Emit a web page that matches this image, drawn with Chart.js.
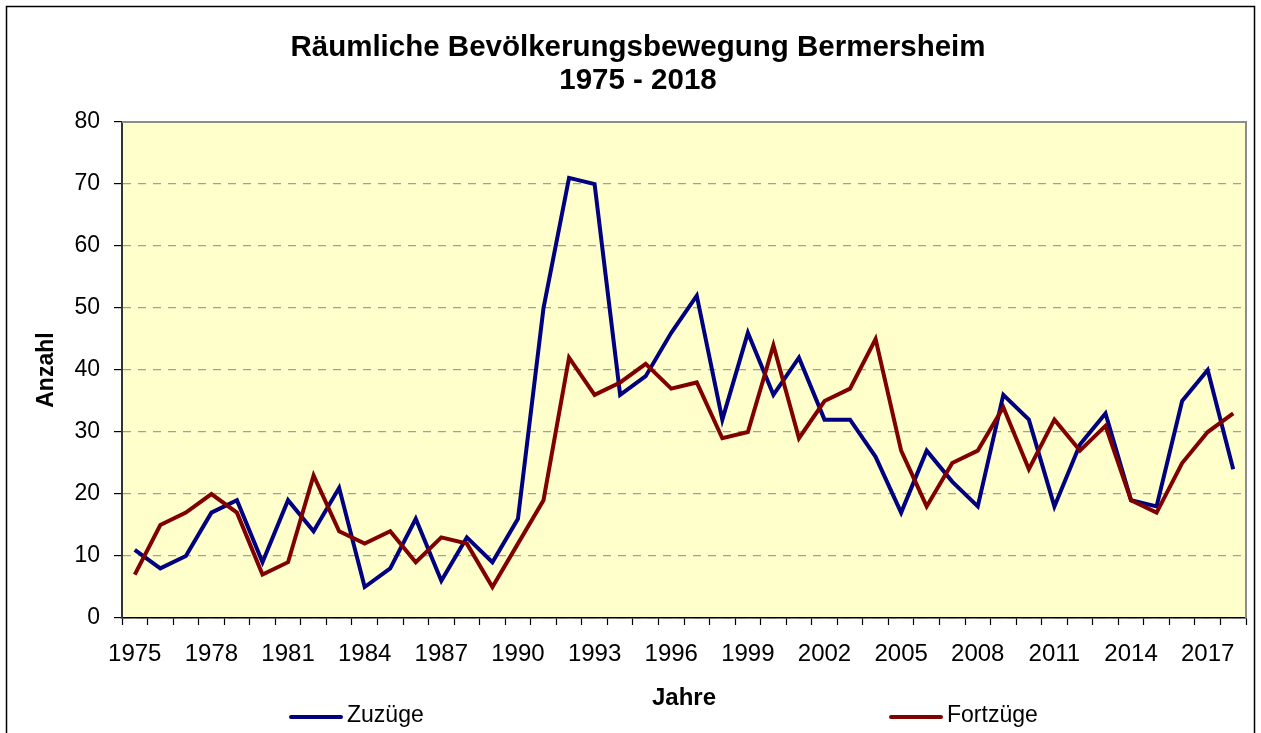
<!DOCTYPE html>
<html>
<head>
<meta charset="utf-8">
<title>Räumliche Bevölkerungsbewegung Bermersheim</title>
<script src="https://cdn.jsdelivr.net/npm/chart.js@4.4.0/dist/chart.umd.min.js"></script>
<style>
    html, body { margin: 0; padding: 0; background: #fff; }
    canvas { display: block; }
</style>
</head>
<body>
<canvas id="chart" width="1261" height="733"></canvas>
<script>
const years = [
    '1975', '1976', '1977', '1978', '1979', '1980', '1981', '1982', '1983', '1984', '1985',
    '1986', '1987', '1988', '1989', '1990', '1991', '1992', '1993', '1994', '1995', '1996',
    '1997', '1998', '1999', '2000', '2001', '2002', '2003', '2004', '2005', '2006', '2007',
    '2008', '2009', '2010', '2011', '2012', '2013', '2014', '2015', '2016', '2017', '2018',
];

const zuzuege = [
    11, 8, 10, 17, 19, 9, 19, 14, 21, 5, 8,
    16, 6, 13, 9, 16, 50, 71, 70, 36, 39, 46,
    52, 32, 46, 36, 42, 32, 32, 26, 17, 27, 22,
    18, 36, 32, 18, 28, 33, 19, 18, 35, 40, 24,
];

const fortzuege = [
    7, 15, 17, 20, 17, 7, 9, 23, 14, 12, 14,
    9, 13, 12, 5, 12, 19, 42, 36, 38, 41, 37,
    38, 29, 30, 44, 29, 35, 37, 45, 27, 18, 25,
    27, 34, 24, 32, 27, 31, 19, 17, 25, 30, 33,
];

const titleLines = ['Räumliche Bevölkerungsbewegung Bermersheim', '1975 - 2018'];
const seriesNames = ['Zuzüge', 'Fortzüge'];
const seriesColors = ['#000080', '#800000'];

const FONT = "'Liberation Sans', Arial, sans-serif";

// background, plot fill, outer frame
const framePlugin = {
    id: 'frame',
    beforeDraw(chart) {
        const { ctx, chartArea: a, width, height } = chart;
        ctx.save();
        ctx.fillStyle = '#ffffff';
        ctx.fillRect(0, 0, width, height);
        ctx.fillStyle = '#FFFFCC';
        ctx.fillRect(a.left, a.top, a.right - a.left, a.bottom - a.top);
        ctx.strokeStyle = '#000';
        ctx.lineWidth = 1.5;
        ctx.strokeRect(6.5, 6.5, width - 13, height + 20);
        ctx.restore();
    },
    beforeDatasetsDraw(chart) {
        const { ctx, chartArea: a } = chart;
        ctx.save();
        ctx.strokeStyle = '#8c8c8c';
        ctx.lineWidth = 2;
        ctx.beginPath();
        ctx.moveTo(a.left, a.top);
        ctx.lineTo(a.right, a.top);
        ctx.lineTo(a.right, a.bottom);
        ctx.stroke();
        ctx.restore();
    },
};

// legend items sit far apart at the bottom, like the original
const legendPlugin = {
    id: 'spreadLegend',
    afterDraw(chart) {
        const { ctx } = chart;
        const xs = [291, 891];
        const y = 717;
        ctx.save();
        ctx.font = '23px ' + FONT;
        ctx.textBaseline = 'middle';
        ctx.fillStyle = '#000';
        chart.data.datasets.forEach(ds => {
            const idx = seriesNames.indexOf(ds.label);
            ctx.strokeStyle = ds.borderColor;
            ctx.lineWidth = 4;
            ctx.lineCap = 'round';
            ctx.beginPath();
            ctx.moveTo(xs[idx], y);
            ctx.lineTo(xs[idx] + 50, y);
            ctx.stroke();
            ctx.fillText(ds.label, xs[idx] + 56, y - 1);
        });
        ctx.restore();
    },
};

new Chart(document.getElementById('chart'), {
    type: 'line',
    data: {
        labels: years,
        datasets: [
            {
                label: seriesNames[0],
                data: zuzuege,
                borderColor: seriesColors[0],
                backgroundColor: seriesColors[0],
                borderWidth: 4,
                pointRadius: 0,
                tension: 0,
                order: 1,
            },
            {
                label: seriesNames[1],
                data: fortzuege,
                borderColor: seriesColors[1],
                backgroundColor: seriesColors[1],
                borderWidth: 4,
                pointRadius: 0,
                tension: 0,
                order: 0,
            },
        ],
    },
    options: {
        responsive: false,
        animation: false,
        devicePixelRatio: 1,
        layout: { padding: { left: 30, right: 15, top: 0, bottom: 0 } },
        plugins: {
            legend: { display: false },
            tooltip: { enabled: false },
            title: {
                display: true,
                text: titleLines,
                color: '#000',
                font: { family: FONT, size: 29.5, weight: 'bold', lineHeight: 1.12 },
                padding: { top: 31, bottom: 25 },
            },
        },
        scales: {
            x: {
                offset: true,
                afterFit: s => { s.height = 115; },
                grid: {
                    offset: true,
                    drawOnChartArea: false,
                    tickLength: 7,
                    tickColor: '#000',
                    tickWidth: 1.2,
                },
                border: { color: '#000', width: 1.5 },
                ticks: {
                    autoSkip: false,
                    maxRotation: 0,
                    minRotation: 0,
                    padding: 15,
                    color: '#000',
                    font: { family: FONT, size: 24 },
                    callback: function (value, index) {
                        return index % 3 === 0 ? this.getLabelForValue(value) : '';
                    },
                },
                title: {
                    display: true,
                    text: 'Jahre',
                    color: '#000',
                    font: { family: FONT, size: 24, weight: 'bold', lineHeight: 1.2 },
                    padding: { top: 4, bottom: 20 },
                },
            },
            y: {
                min: 0,
                max: 80,
                afterFit: s => { s.width = 92; },
                grid: {
                    color: '#a0a0a0',
                    lineWidth: 1.2,
                    tickLength: 8,
                    tickColor: '#000',
                    tickWidth: 1.2,
                },
                border: { color: '#333', width: 2, dash: [8, 7] },
                ticks: {
                    stepSize: 10,
                    padding: 14,
                    color: '#000',
                    font: { family: FONT, size: 23 },
                },
                title: {
                    display: true,
                    text: 'Anzahl',
                    color: '#000',
                    font: { family: FONT, size: 23, weight: 'bold', lineHeight: 1.2 },
                    padding: { top: 3, bottom: 4 },
                },
            },
        },
    },
    plugins: [framePlugin, legendPlugin],
});
</script>
</body>
</html>
